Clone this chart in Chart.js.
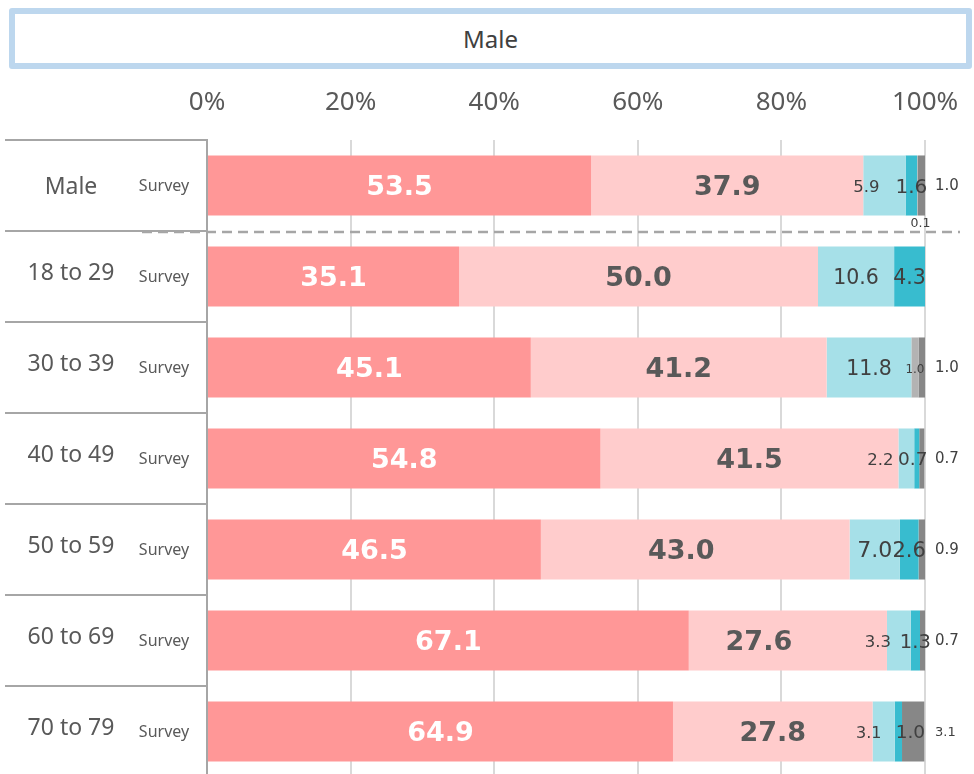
<!DOCTYPE html>
<html lang="en">
<head>
<meta charset="UTF-8">
<title>Male</title>
<script src="https://cdn.jsdelivr.net/npm/chart.js"></script>
<style>
  html, body { margin: 0; padding: 0; background: #fff; overflow: hidden; }
  #wrap { position: relative; width: 974px; height: 780px; }
  #title {
    position: absolute; left: 9px; top: 8px; width: 951px; height: 49px;
    border: 6px solid #bdd7ee; border-radius: 3px;
    font: 24px "Noto Sans", sans-serif; color: #404040;
    text-align: center; line-height: 49px;
  }
  #chart { position: absolute; left: 0; top: 0; }
</style>
</head>
<body>
<div id="wrap">
  <div id="title">Male</div>
  <canvas id="chart" width="974" height="780"></canvas>
</div>
<script>
// rows, top to bottom
const categories = ['Male', '18 to 29', '30 to 39', '40 to 49', '50 to 59', '60 to 69', '70 to 79'];
const rowTag = 'Survey';
const xTicks = [0, 20, 40, 60, 80, 100];

// stacked shares (%), one array per segment
const segment1 = [53.5, 35.1, 45.1, 54.8, 46.5, 67.1, 64.9];
const segment2 = [37.9, 50.0, 41.2, 41.5, 43.0, 27.6, 27.8];
const segment3 = [5.9, 10.6, 11.8, 2.2, 7.0, 3.3, 3.1];
const segment4 = [1.6, 4.3, 0, 0.7, 2.6, 1.3, 1.0];
const segment5 = [0.1, 0, 1.0, 0, 0, 0, 0];
const segment6 = [1.0, 0, 1.0, 0.7, 0.9, 0.7, 3.1];

const colors = ['#ff9797', '#ffcccc', '#a6e0e8', '#38bccf', '#b3b3b3', '#878787'];

// how each segment's value label is drawn
const labelStyle = [
  { weight: 'bold', size: [27, 27, 27, 27, 27, 27, 27], color: '#ffffff', dx: [0, 0, 0, 0, 0, 0, 0], mode: 'center' },
  { weight: 'bold', size: [27, 27, 27, 27, 27, 27, 27], color: '#595959', dx: [0, 0, 0, 0, -14, -29, 0], mode: 'center' },
  { weight: 'normal', size: [16.5, 20.5, 20.5, 16.5, 22, 16.5, 16], color: '#404040', dx: [-18, 0, 0, -26, 0, -21, -15], mode: 'center' },
  { weight: 'normal', size: [20, 20.5, 0, 18.5, 21, 19.5, 18.5], color: '#404040', dx: [0, 0, 0, -4, 0, 0, 12], mode: 'center' },
  { weight: 'normal', size: [12.5, 0, 12, 0, 0, 0, 0], color: '#404040', dx: [3, 0, 0, 0, 0, 0, 0], mode: ['below', 'center', 'center', 'center', 'center', 'center', 'center'] },
  { weight: 'normal', size: [15, 0, 15, 15, 15, 15, 13], color: '#404040', dx: [0, 0, 0, 0, 0, 0, 0], mode: 'outside' }
];

const segments = [segment1, segment2, segment3, segment4, segment5, segment6];

const valueLabels = {
  id: 'valueLabels',
  afterDatasetsDraw(chart) {
    const ctx = chart.ctx;
    const area = chart.chartArea;
    ctx.save();
    ctx.textBaseline = 'middle';
    segments.forEach((values, d) => {
      const st = labelStyle[d];
      const meta = chart.getDatasetMeta(d);
      meta.data.forEach((bar, i) => {
        const v = values[i];
        if (!v || !st.size[i]) return;
        const p = bar.getProps(['x', 'y', 'base', 'height'], true);
        const mode = Array.isArray(st.mode) ? st.mode[i] : st.mode;
        ctx.font = st.weight + ' ' + st.size[i] + 'px "DejaVu Sans", sans-serif';
        ctx.fillStyle = st.color;
        let x, y;
        if (mode === 'outside') {
          ctx.textAlign = 'left';
          x = area.right + 10;
          y = p.y + 1;
        } else if (mode === 'below') {
          ctx.textAlign = 'center';
          x = (p.x + p.base) / 2 + st.dx[i];
          y = p.y + p.height / 2 + 8;
        } else {
          ctx.textAlign = 'center';
          x = (p.x + p.base) / 2 + st.dx[i];
          y = p.y + 2;
        }
        ctx.fillText(v.toFixed(1), x, y);
      });
    });
    ctx.restore();
  }
};

const rowFrame = {
  id: 'rowFrame',
  afterDraw(chart) {
    const ctx = chart.ctx;
    const area = chart.chartArea;
    const yScale = chart.scales.y;
    const rowH = (area.bottom - area.top) / categories.length;
    ctx.save();
    // left table lines
    ctx.strokeStyle = '#a6a6a6';
    ctx.lineWidth = 2;
    for (let i = 0; i < categories.length; i++) {
      const y = area.top + i * rowH;
      ctx.beginPath();
      ctx.moveTo(5, y);
      ctx.lineTo(area.left, y);
      ctx.stroke();
    }
    // dashed separator under the total row
    ctx.setLineDash([10, 6]);
    ctx.lineWidth = 2.5;
    ctx.beginPath();
    ctx.moveTo(142, area.top + rowH + 1);
    ctx.lineTo(960, area.top + rowH + 1);
    ctx.stroke();
    ctx.setLineDash([]);
    // row labels
    ctx.fillStyle = '#595959';
    ctx.textAlign = 'center';
    ctx.textBaseline = 'middle';
    categories.forEach((c, i) => {
      const yc = yScale.getPixelForValue(i);
      ctx.font = '23px "Noto Sans", sans-serif';
      ctx.fillText(c, 71, yc + (i === 0 ? 2 : -3));
      ctx.font = '16px "Noto Sans", sans-serif';
      ctx.fillText(rowTag, 164, yc + 1);
    });
    ctx.restore();
  }
};

new Chart(document.getElementById('chart'), {
  type: 'bar',
  data: {
    labels: categories,
    datasets: segments.map((values, d) => ({
      label: 'Segment ' + (d + 1),
      data: values,
      backgroundColor: colors[d],
      borderWidth: 0,
      barPercentage: 0.66,
      categoryPercentage: 1
    }))
  },
  options: {
    indexAxis: 'y',
    responsive: false,
    animation: false,
    layout: { padding: { top: 70, left: 0, right: 49, bottom: 3 } },
    plugins: {
      legend: { display: false },
      tooltip: { enabled: false },
      title: { display: false }
    },
    scales: {
      x: {
        position: 'top',
        stacked: true,
        min: 0,
        max: 100,
        afterBuildTicks: s => { s.ticks = xTicks.map(v => ({ value: v })); },
        afterFit: s => { s.height = 70; s.paddingLeft = 0; s.paddingRight = 0; },
        ticks: {
          padding: 22,
          color: '#595959',
          font: { family: 'Noto Sans', size: 26 },
          callback: v => v + '%'
        },
        grid: { color: '#d9d9d9', lineWidth: 2, drawTicks: false },
        border: { display: false }
      },
      y: {
        stacked: true,
        afterFit: s => { s.width = 207; },
        ticks: { display: false },
        grid: { display: false },
        border: { display: true, color: '#a6a6a6', width: 2 }
      }
    }
  },
  plugins: [valueLabels, rowFrame]
});
</script>
</body>
</html>
